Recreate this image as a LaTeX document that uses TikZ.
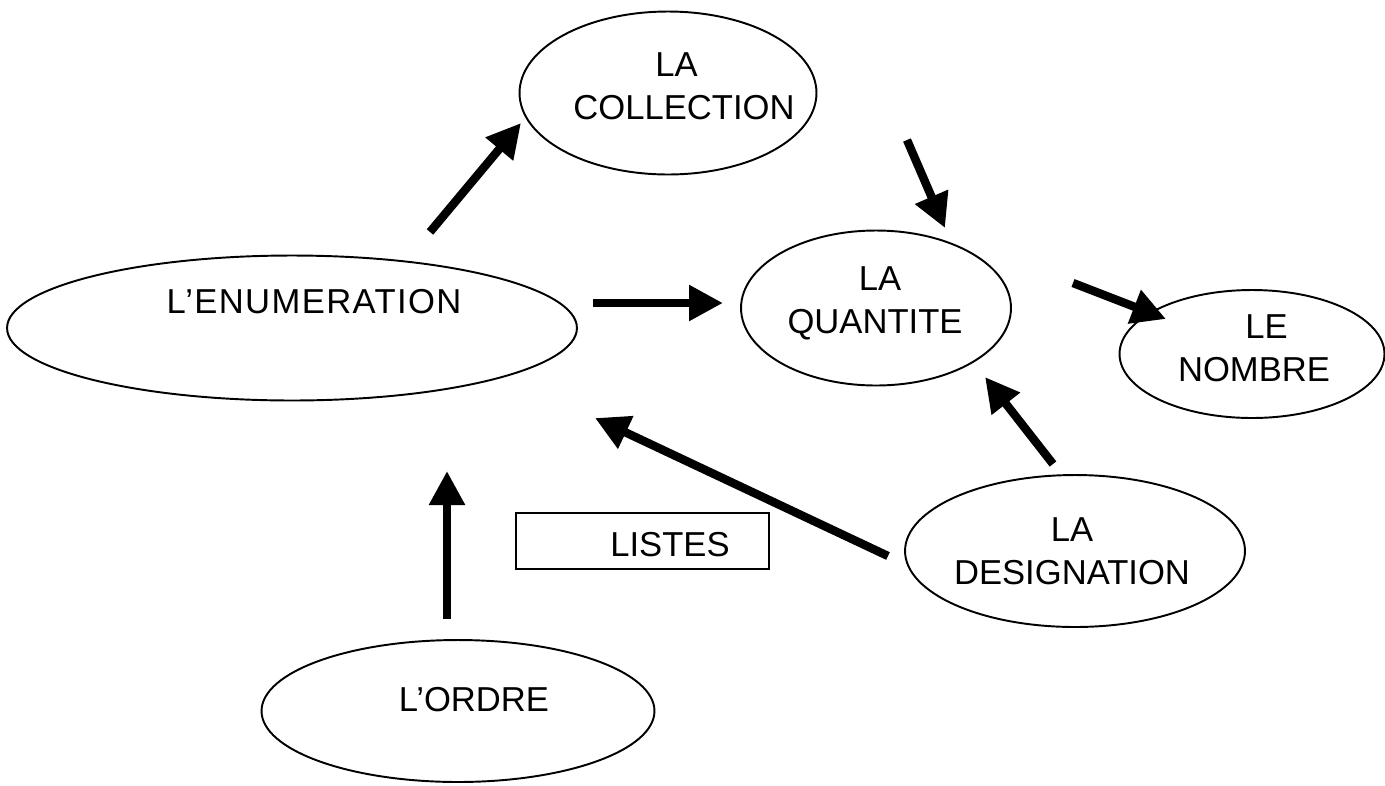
\documentclass[tikz,border=0pt]{standalone}
\usepackage{fontspec}
\setmainfont{Liberation Sans}
\newfontfamily\widefont[LetterSpace=4,Ligatures=TeX]{Liberation Sans}
\usetikzlibrary{shapes.geometric,arrows.meta}
\tikzset{
  ell/.style={draw, ellipse, line width=1.1pt, inner sep=0pt},
  lbl/.style={font=\fontsize{19.7}{24.5}\selectfont, align=center, inner sep=0pt},
  arr/.style={line width=4.8pt, -{Triangle[length=0.68cm,width=0.68cm]}},
}
\begin{document}
\begin{tikzpicture}[x=0.02cm,y=-0.02cm]
\useasboundingbox (0,0) rectangle (1385,785);
% ellipses
\node[ell, minimum width=5.94cm, minimum height=3.26cm] (coll) at (668,93) {};
\node[ell, minimum width=11.4cm, minimum height=2.9cm] (enum) at (292,328) {};
\node[ell, minimum width=5.4cm, minimum height=3.1cm] (quant) at (876,308) {};
\node[ell, minimum width=5.3cm, minimum height=2.56cm] (nomb) at (1252,354) {};
\node[ell, minimum width=6.8cm, minimum height=3.04cm] (desig) at (1075,551) {};
\node[ell, minimum width=7.86cm, minimum height=2.84cm] (ordre) at (458,711) {};
\node[draw, line width=0.8pt, minimum width=5.06cm, minimum height=1.12cm, inner sep=0pt] (listes) at (642.5,541) {};
% labels
\node[lbl] (tcoll) at (684,86) {\hspace*{-0.3cm}LA\\COLLECTION};
\node[lbl] (tenum) at (314,302) {\widefont L’ENUMERATION};
\node[lbl] (tquant) at (875,303) {\hspace*{0.2cm}LA\\QUANTITE};
\node[lbl] (tnomb) at (1254,348) {\hspace*{0.5cm}LE\\NOMBRE};
\node[lbl] (tdesig) at (1072,551) {LA\\DESIGNATION};
\node[lbl] (tordre) at (474,700) {L’ORDRE};
\node[lbl] (tlistes) at (670,545) {LISTES};
% arrow end points
\coordinate (a1s) at (430,232); \coordinate (a1e) at (521,123);
\coordinate (a2s) at (593,303); \coordinate (a2e) at (723,303);
\coordinate (a3s) at (907,140); \coordinate (a3e) at (945,228);
\coordinate (a4s) at (1073,283); \coordinate (a4e) at (1166,319);
\coordinate (a5s) at (1053,464); \coordinate (a5e) at (985,377);
\coordinate (a6s) at (888,556); \coordinate (a6e) at (595,418);
\coordinate (a7s) at (447,619); \coordinate (a7e) at (447,471);
\draw[arr] (a1s) -- (a1e);
\draw[arr] (a2s) -- (a2e);
\draw[arr] (a3s) -- (a3e);
\draw[arr] (a4s) -- (a4e);
\draw[arr] (a5s) -- (a5e);
\draw[arr] (a6s) -- (a6e);
\draw[arr] (a7s) -- (a7e);
\end{tikzpicture}
\end{document}
